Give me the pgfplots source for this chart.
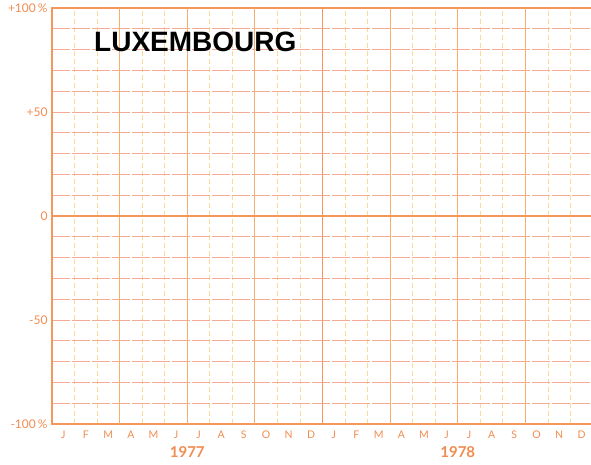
\documentclass[border=0pt]{standalone}
\usepackage{pgfplots}
\pgfplotsset{compat=1.18}
\usepackage{fontspec}
\setmainfont{Liberation Sans}
\newfontfamily\lab{Lato}
\definecolor{frameor}{RGB}{245,150,90}
\definecolor{textor}{RGB}{240,140,80}
\definecolor{hgrid}{RGB}{245,170,150}
\definecolor{vgrid}{RGB}{250,218,150}
\definecolor{qgrid}{RGB}{248,175,110}
\begin{document}
\begin{tikzpicture}
\path[use as bounding box] (0,0) rectangle (591pt,465pt);
\begin{axis}[
  at={(52pt,41pt)}, anchor=south west,
  scale only axis, width=541pt, height=416pt,
  xmin=0, xmax=24, ymin=-100, ymax=100,
  axis line style={frameor, line width=1.3pt},
  major tick length=0pt, minor tick length=0pt,
  xtick={0.5,1.5,...,23.5},
  xticklabels={J,F,M,A,M,J,J,A,S,O,N,D,J,F,M,A,M,J,J,A,S,O,N,D},
  xticklabel style={font=\lab\fontsize{10.5}{10.5}\selectfont, text=textor, yshift=-3pt},
  minor xtick={1,2,4,5,7,8,10,11,13,14,16,17,19,20,22,23},
  xminorgrids,
  minor x grid style={vgrid, dash pattern=on 5pt off 3pt, line width=0.7pt},
  ytick={-100,-50,0,50,100},
  yticklabels={-100\,\%, -50, 0, +50, +100\,\%},
  yticklabel style={font=\lab\fontsize{12}{12}\selectfont, text=textor, xshift=-1pt},
  minor ytick={-90,-80,...,90},
  yminorgrids,
  minor y grid style={hgrid, dash pattern=on 18pt off 2pt, line width=0.75pt},
  clip=false,
]
\draw[qgrid, line width=0.9pt] (axis cs:3,-100) -- (axis cs:3,100);
\draw[qgrid, line width=0.9pt] (axis cs:6,-100) -- (axis cs:6,100);
\draw[qgrid, line width=0.9pt] (axis cs:9,-100) -- (axis cs:9,100);
\draw[qgrid, line width=0.9pt] (axis cs:15,-100) -- (axis cs:15,100);
\draw[qgrid, line width=0.9pt] (axis cs:18,-100) -- (axis cs:18,100);
\draw[qgrid, line width=0.9pt] (axis cs:21,-100) -- (axis cs:21,100);
\draw[frameor, line width=1.2pt] (axis cs:12,-100) -- (axis cs:12,100);
\draw[frameor, line width=1.2pt] (axis cs:0,0) -- (axis cs:24,0);
\node[text=textor, font=\lab\bfseries\fontsize{15}{15}\selectfont] at (axis cs:6,-100) [yshift=-28pt] {1977};
\node[text=textor, font=\lab\bfseries\fontsize{15}{15}\selectfont] at (axis cs:18,-100) [yshift=-28pt] {1978};
\end{axis}
\node[anchor=west, inner sep=0pt, font=\fontsize{28}{28}\selectfont\bfseries] at (94pt,423pt) {LUXEMBOURG};
\end{tikzpicture}
\end{document}
